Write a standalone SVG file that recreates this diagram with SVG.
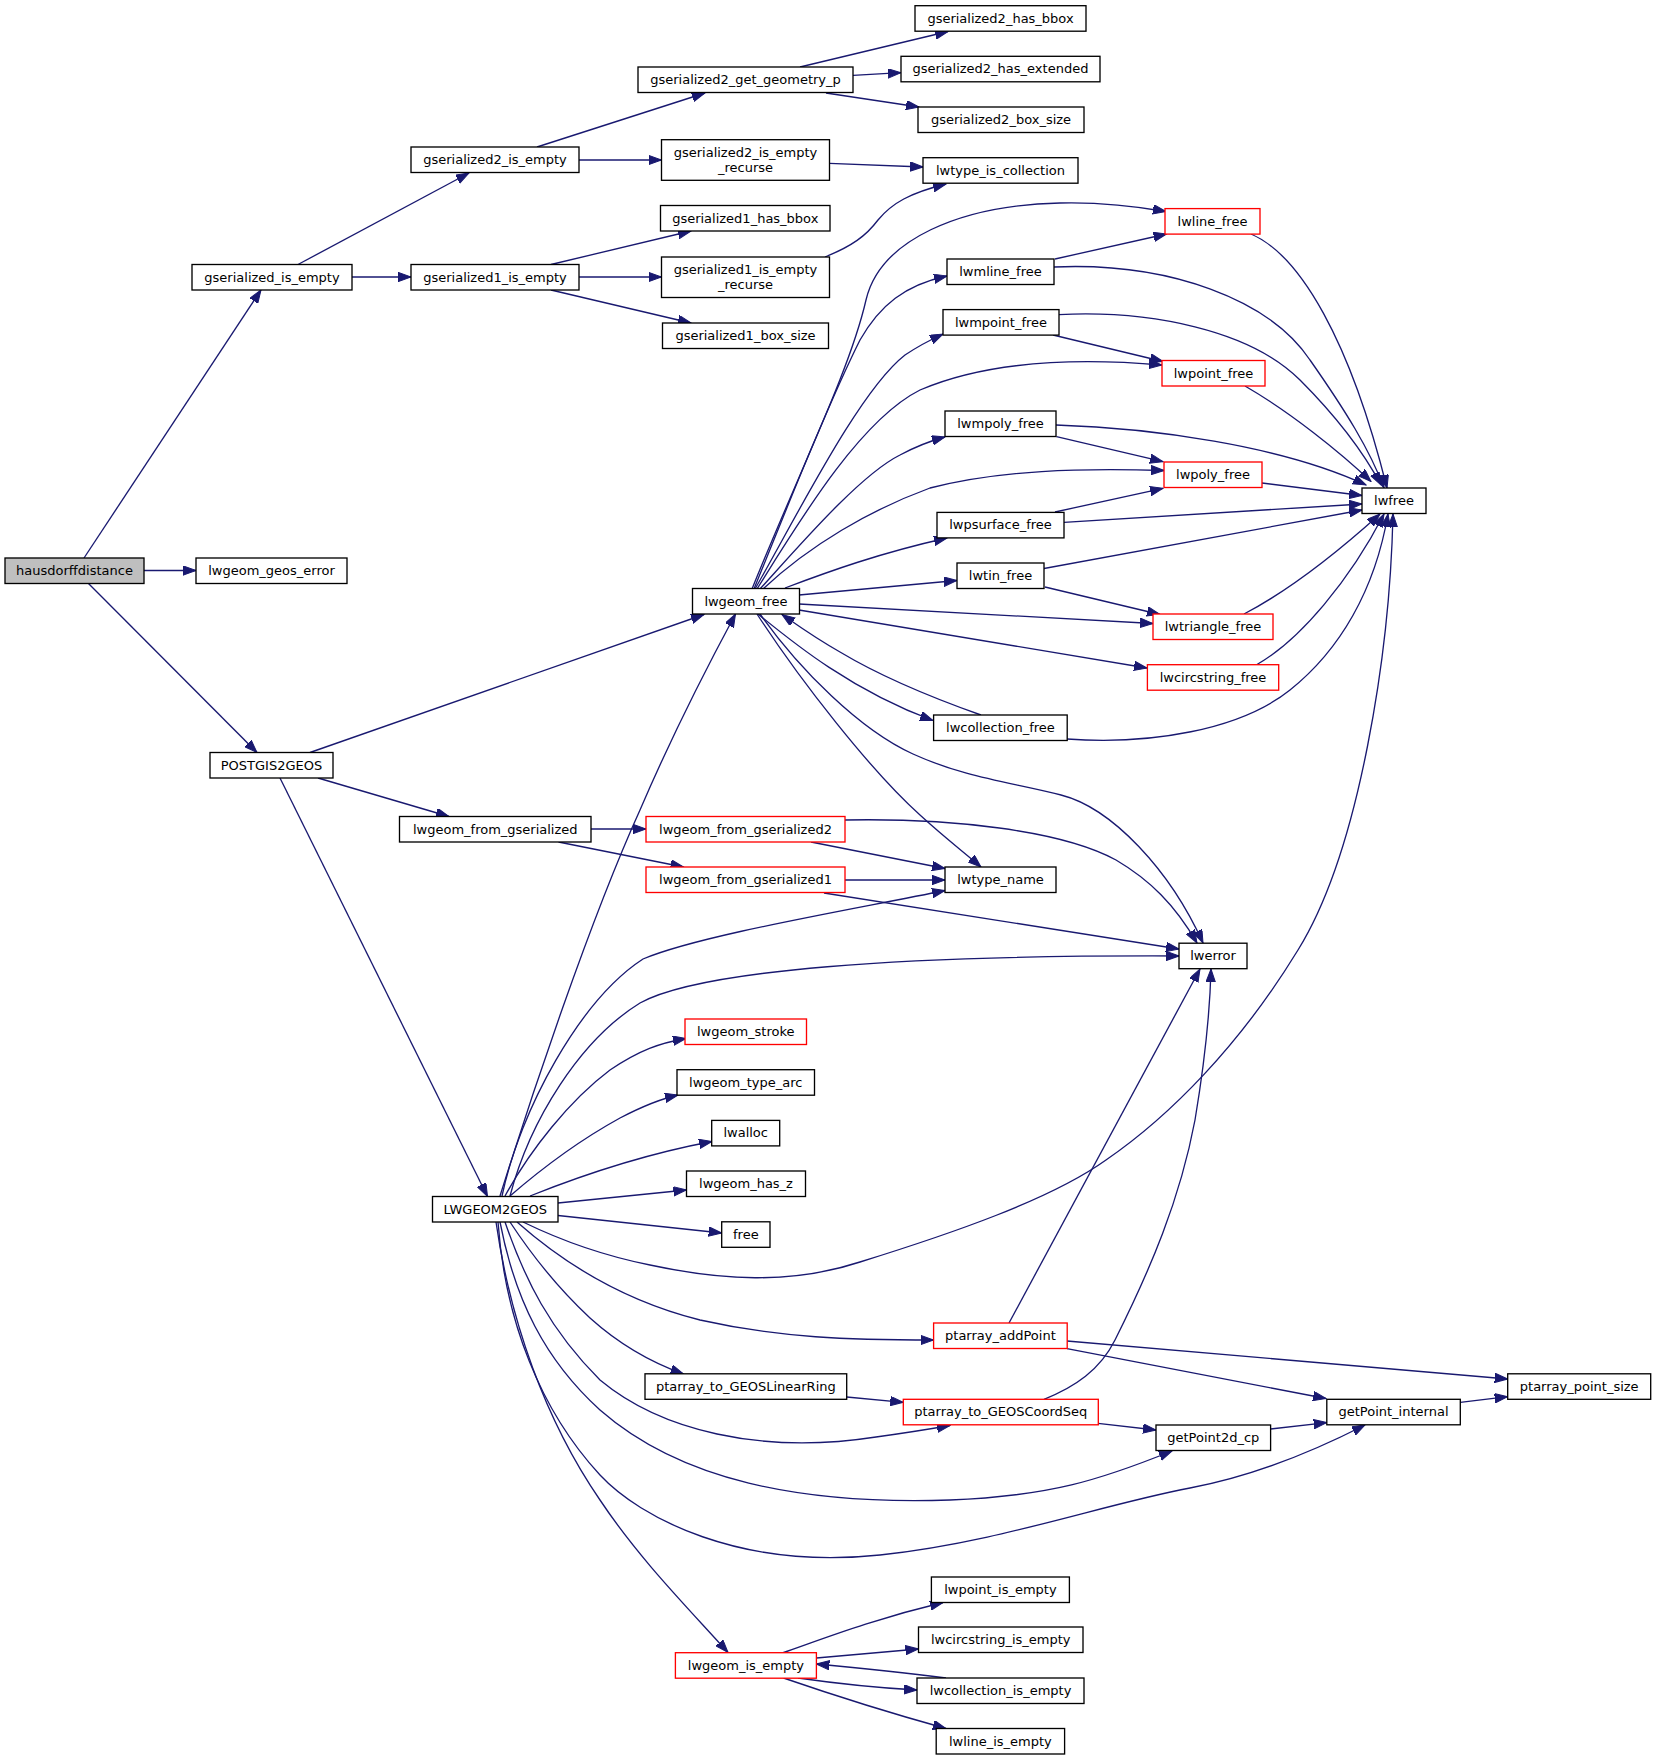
<svg xmlns="http://www.w3.org/2000/svg" width="1656" height="1760" viewBox="0 0 1656 1760">
<style>
.n rect{fill:#fff;stroke:#000;stroke-width:1.33}
.n.r rect{stroke:#ff0000}
.n.g rect{fill:#bfbfbf}
.n text{font-family:"DejaVu Sans",sans-serif;font-size:13px;text-anchor:middle;fill:#000}
#edges path{fill:none;stroke:#191970;stroke-width:1.33;marker-end:url(#a)}
</style>
<defs>
<marker id="a" markerUnits="userSpaceOnUse" markerWidth="14" markerHeight="10" refX="13" refY="4.7" orient="auto"><path d="M0,0 L13,4.7 L0,9.4 z" fill="#191970" stroke="#191970" stroke-width="1"/></marker>
</defs>
<rect x="0" y="0" width="1656" height="1760" fill="#fff"/>
<g id="edges">
<path d="M84,558 L261,290"/>
<path d="M144,570.5 L196,570.5"/>
<path d="M88,583 L257,752.5"/>
<path d="M298,264.5 L469,173"/>
<path d="M352,277 L411,277"/>
<path d="M537,147 L705,93"/>
<path d="M579,160 L661.5,160"/>
<path d="M551,264.5 L691,231"/>
<path d="M579,277 L661.5,277"/>
<path d="M551,290 L691,323"/>
<path d="M800,67 L948,31.5"/>
<path d="M853,75.4 L901,72.7"/>
<path d="M826,93 L919,107"/>
<path d="M829.5,163.3 L923,167"/>
<path d="M825,257 C852,246 866,236 878,220 C892,203 910,193 946,184"/>
<path d="M752,589 C800,470 850,370 866,300 C880,240 960,205 1060,203 C1100,202 1140,207 1166,211.5"/>
<path d="M754,589 C790,500 830,400 860,340 C880,305 905,285 947,276"/>
<path d="M755,589 C800,510 860,390 905,355 C920,345 930,340 943,334"/>
<path d="M757,589 C800,520 860,420 920,390 C990,360 1080,358 1162,365"/>
<path d="M760,589 C800,545 860,475 900,455 C915,447 930,441 945,437"/>
<path d="M763,589 C810,545 870,510 930,488 C1000,470 1080,468 1164,470.5"/>
<path d="M785,588 C830,571 880,553 947,538"/>
<path d="M799,595 L957,580.5"/>
<path d="M799,604 L1153,623.5"/>
<path d="M799,610 L1147,668"/>
<path d="M758,614 C790,640 850,690 933,720.5"/>
<path d="M981,715 C930,697 880,676 840,652 C815,638 800,627 782,614.5"/>
<path d="M757,614 C800,680 870,770 920,815 C945,838 965,853 981,867"/>
<path d="M760,614 C800,670 860,730 913,754 C966,778 1010,782 1061,795 C1112,808 1170,870 1203,943"/>
<path d="M845,820 C950,818 1061,830 1116,860 C1150,880 1175,905 1197,943"/>
<path d="M824,893 L1179,949"/>
<path d="M510,1196 C530,1120 580,1040 640,1003 C700,970 900,955 1179,956"/>
<path d="M502,1196 C520,1110 580,1000 643,959 C700,935 850,910 945,890.5"/>
<path d="M500,1196 C530,1100 590,920 640,810 C670,740 700,680 735.5,614"/>
<path d="M310,752.5 L704,614.5"/>
<path d="M318,778 L449,816.5"/>
<path d="M280,778 L487.5,1196.5"/>
<path d="M591,829 L646,829"/>
<path d="M558.5,842 L683.5,867"/>
<path d="M811,842 L945,868.5"/>
<path d="M845,880 L945,880"/>
<path d="M505,1196 C530,1150 570,1100 610,1070 C640,1050 660,1043 686,1038.5"/>
<path d="M510,1196 C540,1170 580,1140 620,1118 C645,1105 660,1099 678,1095"/>
<path d="M530,1196 C570,1180 640,1155 712,1141.5"/>
<path d="M558,1203 L686.5,1190"/>
<path d="M558,1215.5 L721.7,1233"/>
<path d="M523,1222 C560,1240 600,1255 650,1265 C720,1280 790,1285 860,1262 C950,1234 1050,1200 1106,1160 C1170,1116 1240,1045 1298,950 C1360,850 1390,650 1393,514"/>
<path d="M517,1222 C560,1260 620,1300 700,1320 C780,1338 850,1340 933.6,1340"/>
<path d="M510,1222 C535,1260 560,1290 590,1318 C620,1345 650,1362 683.5,1374"/>
<path d="M505,1222 C525,1280 550,1330 600,1380 C660,1430 760,1455 876,1437 C905,1433 930,1429 950,1425.5"/>
<path d="M500,1222 C515,1300 545,1360 600,1410 C680,1480 800,1505 950,1500 C1050,1496 1100,1480 1172,1451"/>
<path d="M498,1222 C505,1320 540,1410 600,1475 C640,1518 740,1570 880,1555 C1000,1542 1100,1505 1190,1488 C1260,1475 1320,1448 1365,1425"/>
<path d="M496,1222 C510,1320 545,1420 600,1500 C640,1560 690,1610 728,1652.5"/>
<path d="M1009,1323 L1200,969"/>
<path d="M1067,1341 L1507.7,1379"/>
<path d="M1067,1348.7 L1326,1398.5"/>
<path d="M1044,1399.3 C1075,1387 1100,1370 1115,1340 C1150,1270 1180,1200 1195,1120 C1205,1060 1210,1010 1211,969"/>
<path d="M846.7,1397 L903.3,1402.3"/>
<path d="M1098,1423.4 L1156,1430"/>
<path d="M1270.6,1429 L1326.8,1422.6"/>
<path d="M1460.3,1402.3 L1507.7,1396.7"/>
<path d="M783,1652.7 C820,1640 870,1620 943,1602.5"/>
<path d="M816.4,1658 L918.5,1649"/>
<path d="M946,1678 C900,1672 860,1668 816.4,1664"/>
<path d="M798,1678 C840,1684 880,1688 917,1690"/>
<path d="M783.5,1678 C830,1694 890,1713 946,1728.5"/>
<path d="M1251,234 C1300,255 1350,340 1387,488"/>
<path d="M1055,259 L1166.5,234"/>
<path d="M1054,267 C1170,262 1270,300 1310,360 C1345,410 1370,450 1384,488"/>
<path d="M1053,335 L1163,361.5"/>
<path d="M1059,314.6 C1150,310 1250,330 1300,380 C1340,420 1365,455 1381,485"/>
<path d="M1245,386 C1290,412 1340,452 1371,481.5"/>
<path d="M1056.5,436.7 L1163,461.7"/>
<path d="M1056,425 C1150,428 1280,445 1366,485"/>
<path d="M1262,483 L1362,495.5"/>
<path d="M1055,512 L1163,488.3"/>
<path d="M1064,522.3 L1362,504"/>
<path d="M1044,568.5 L1362,510"/>
<path d="M1045,587 L1160,614.5"/>
<path d="M1244,614 C1290,590 1340,550 1380,514"/>
<path d="M1257,664.5 C1300,640 1350,580 1384,514"/>
<path d="M1067,739 C1150,745 1240,730 1290,690 C1340,650 1375,590 1388,514"/>
</g>
<g id="n1" class="n g"><rect x="5" y="558" width="139" height="25.5"/><text x="74.5" y="575">hausdorffdistance</text></g>
<g id="n2" class="n"><rect x="196" y="558" width="151" height="25.5"/><text x="271.5" y="575">lwgeom_geos_error</text></g>
<g id="n3" class="n"><rect x="192" y="264.5" width="160" height="25.5"/><text x="272" y="281.5">gserialized_is_empty</text></g>
<g id="n4" class="n"><rect x="210" y="752.5" width="123" height="25.5"/><text x="271.5" y="769.5">POSTGIS2GEOS</text></g>
<g id="n5" class="n"><rect x="411" y="147" width="168" height="25.5"/><text x="495" y="164">gserialized2_is_empty</text></g>
<g id="n6" class="n"><rect x="411" y="264.5" width="168" height="25.5"/><text x="495" y="281.5">gserialized1_is_empty</text></g>
<g id="n7" class="n"><rect x="399.5" y="816.5" width="191.5" height="25.5"/><text x="495.25" y="833.5">lwgeom_from_gserialized</text></g>
<g id="n8" class="n"><rect x="432.5" y="1196.5" width="125.5" height="25.5"/><text x="495.25" y="1213.5">LWGEOM2GEOS</text></g>
<g id="n9" class="n"><rect x="638" y="67" width="215" height="25.5"/><text x="745.5" y="84">gserialized2_get_geometry_p</text></g>
<g id="n10" class="n"><rect x="661.5" y="139.7" width="168" height="40.6"/><text x="745.5" y="156.5">gserialized2_is_empty</text><text x="745.5" y="171.5">_recurse</text></g>
<g id="n11" class="n"><rect x="660.5" y="205.5" width="169.5" height="25.5"/><text x="745.25" y="222.5">gserialized1_has_bbox</text></g>
<g id="n12" class="n"><rect x="661.5" y="257" width="168" height="40.5"/><text x="745.5" y="273.5">gserialized1_is_empty</text><text x="745.5" y="288.5">_recurse</text></g>
<g id="n13" class="n"><rect x="662.5" y="323" width="166" height="25.5"/><text x="745.5" y="340">gserialized1_box_size</text></g>
<g id="n14" class="n"><rect x="692.5" y="588.5" width="107" height="25.5"/><text x="746" y="605.5">lwgeom_free</text></g>
<g id="n15" class="n r"><rect x="646" y="816.5" width="199" height="25.5"/><text x="745.5" y="833.5">lwgeom_from_gserialized2</text></g>
<g id="n16" class="n r"><rect x="646" y="867" width="199" height="25.5"/><text x="745.5" y="884">lwgeom_from_gserialized1</text></g>
<g id="n17" class="n r"><rect x="685" y="1019" width="121.5" height="25.5"/><text x="745.75" y="1036">lwgeom_stroke</text></g>
<g id="n18" class="n"><rect x="677" y="1069.7" width="137.5" height="25.5"/><text x="745.75" y="1086.7">lwgeom_type_arc</text></g>
<g id="n19" class="n"><rect x="711.7" y="1120.4" width="68" height="25.5"/><text x="745.7" y="1137.4">lwalloc</text></g>
<g id="n20" class="n"><rect x="686.5" y="1171" width="119" height="25.5"/><text x="746" y="1188">lwgeom_has_z</text></g>
<g id="n21" class="n"><rect x="721.7" y="1221.8" width="48.3" height="25.5"/><text x="745.85" y="1238.8">free</text></g>
<g id="n22" class="n"><rect x="645" y="1373.8" width="201.7" height="25.5"/><text x="745.85" y="1390.8">ptarray_to_GEOSLinearRing</text></g>
<g id="n23" class="n r"><rect x="675.4" y="1652.7" width="141" height="25.5"/><text x="745.9" y="1669.7">lwgeom_is_empty</text></g>
<g id="n24" class="n"><rect x="915" y="5.7" width="171" height="25.5"/><text x="1000.5" y="22.7">gserialized2_has_bbox</text></g>
<g id="n25" class="n"><rect x="901" y="56.3" width="199" height="25.5"/><text x="1000.5" y="73.3">gserialized2_has_extended</text></g>
<g id="n26" class="n"><rect x="918" y="107" width="166" height="25.5"/><text x="1001" y="124">gserialized2_box_size</text></g>
<g id="n27" class="n"><rect x="923" y="157.7" width="155" height="25.5"/><text x="1000.5" y="174.7">lwtype_is_collection</text></g>
<g id="n28" class="n"><rect x="947" y="259" width="107" height="25.5"/><text x="1000.5" y="276">lwmline_free</text></g>
<g id="n29" class="n"><rect x="943" y="309.6" width="116" height="25.5"/><text x="1001" y="326.6">lwmpoint_free</text></g>
<g id="n30" class="n"><rect x="945" y="411" width="111" height="25.5"/><text x="1000.5" y="428">lwmpoly_free</text></g>
<g id="n31" class="n"><rect x="937" y="512.4" width="127" height="25.5"/><text x="1000.5" y="529.4">lwpsurface_free</text></g>
<g id="n32" class="n"><rect x="957" y="563" width="87" height="25.5"/><text x="1000.5" y="580">lwtin_free</text></g>
<g id="n33" class="n"><rect x="933.6" y="715" width="133.6" height="25.5"/><text x="1000.4" y="732">lwcollection_free</text></g>
<g id="n34" class="n"><rect x="945" y="867" width="111" height="25.5"/><text x="1000.5" y="884">lwtype_name</text></g>
<g id="n35" class="n r"><rect x="933.6" y="1323" width="133.6" height="25.5"/><text x="1000.4" y="1340">ptarray_addPoint</text></g>
<g id="n36" class="n r"><rect x="903.3" y="1399.3" width="195" height="25.5"/><text x="1000.8" y="1416.3">ptarray_to_GEOSCoordSeq</text></g>
<g id="n37" class="n"><rect x="931.4" y="1577" width="138" height="25.5"/><text x="1000.4" y="1594">lwpoint_is_empty</text></g>
<g id="n38" class="n"><rect x="918.5" y="1627" width="164.5" height="25.5"/><text x="1000.75" y="1644">lwcircstring_is_empty</text></g>
<g id="n39" class="n"><rect x="917" y="1678" width="167" height="25.5"/><text x="1000.5" y="1695">lwcollection_is_empty</text></g>
<g id="n40" class="n"><rect x="936.2" y="1728.5" width="128.4" height="25.5"/><text x="1000.4" y="1745.5">lwline_is_empty</text></g>
<g id="n41" class="n r"><rect x="1165" y="208.6" width="95" height="25.5"/><text x="1212.5" y="225.6">lwline_free</text></g>
<g id="n42" class="n r"><rect x="1162" y="360.5" width="103" height="25.5"/><text x="1213.5" y="377.5">lwpoint_free</text></g>
<g id="n43" class="n r"><rect x="1164" y="462" width="98" height="25.5"/><text x="1213" y="479">lwpoly_free</text></g>
<g id="n44" class="n r"><rect x="1153" y="614" width="120" height="25.5"/><text x="1213" y="631">lwtriangle_free</text></g>
<g id="n45" class="n r"><rect x="1147.4" y="664.7" width="131.3" height="25.5"/><text x="1213" y="681.7">lwcircstring_free</text></g>
<g id="n46" class="n"><rect x="1179" y="943.2" width="68" height="25.5"/><text x="1213" y="960.2">lwerror</text></g>
<g id="n47" class="n"><rect x="1156" y="1425" width="114.6" height="25.5"/><text x="1213.3" y="1442">getPoint2d_cp</text></g>
<g id="n48" class="n"><rect x="1362" y="488" width="64" height="25.5"/><text x="1394" y="505">lwfree</text></g>
<g id="n49" class="n"><rect x="1326.8" y="1399.3" width="133.5" height="25.5"/><text x="1393.5" y="1416.3">getPoint_internal</text></g>
<g id="n50" class="n"><rect x="1507.7" y="1373.8" width="143" height="25.5"/><text x="1579.2" y="1390.8">ptarray_point_size</text></g>
</svg>
